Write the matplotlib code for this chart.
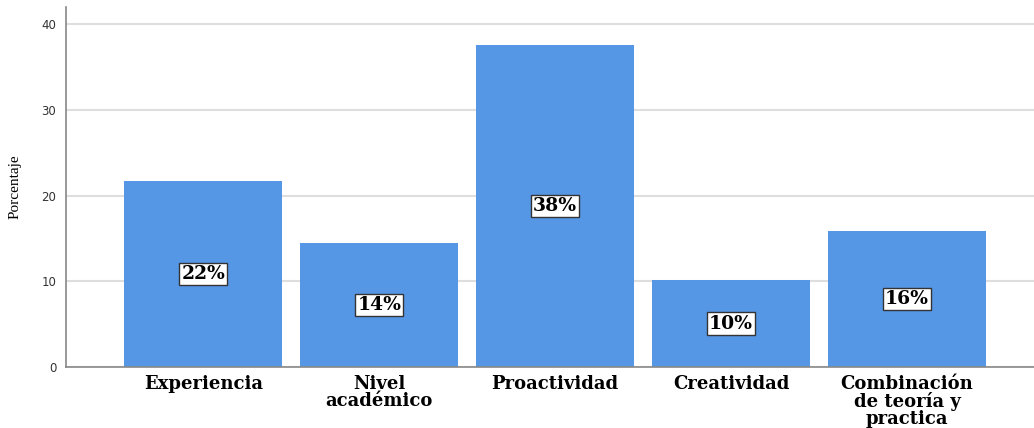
import matplotlib
matplotlib.use("Agg")
import matplotlib.pyplot as plt
import numpy as np

categorias = ["Experiencia", "Nivel\nacadémico", "Proactividad", "Creatividad",
              "Combinación\nde teoría y\npractica"]
porcentajes = [21.7, 14.5, 37.6, 10.1, 15.9]
yticks = [0, 10, 20, 30, 40]

fig = plt.figure(figsize=(10.34, 4.28), dpi=100)
ax = fig.add_axes([0.0638, 0.1425, 0.936, 0.841])

x = np.arange(len(categorias))
ax.bar(x, porcentajes, width=0.898, color="#5596e5", zorder=2)

for xi, v in zip(x, porcentajes):
    ax.text(xi, v / 2, f"{v:.0f}%", ha="center", va="center",
            family="DejaVu Serif", fontweight="bold", fontsize=13.5,
            bbox=dict(boxstyle="square,pad=0.12", fc="white", ec="#333333", lw=1),
            zorder=3)

ax.set_xlim(-0.78, 4.72)
ax.set_ylim(0, 42)
ax.set_yticks(yticks)
ax.set_xticks(x)
ax.set_xticklabels(categorias, family="DejaVu Serif", fontweight="bold",
                   fontsize=13, linespacing=0.93)
ax.tick_params(axis="x", length=0, pad=6)
ax.tick_params(axis="y", length=0, pad=7, labelsize=8.5, labelcolor="#333333")
for lbl in ax.get_yticklabels():
    lbl.set_family("DejaVu Sans")

ax.grid(axis="y", color="#dedede", lw=1.5, zorder=0)
for s in ["top", "right"]:
    ax.spines[s].set_visible(False)
for s in ["left", "bottom"]:
    ax.spines[s].set_color("#888888")
    ax.spines[s].set_linewidth(1.2)

ax.set_ylabel("Porcentaje", family="Liberation Serif", fontsize=11, labelpad=14)

fig.savefig("out.png", dpi=100)
